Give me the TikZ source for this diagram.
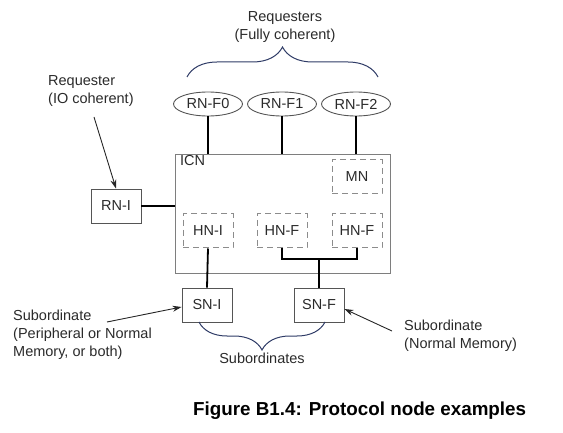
\documentclass[tikz,border=0pt]{standalone}
\usepackage{fontspec}
\setmainfont{Liberation Sans}
\usetikzlibrary{shapes.geometric,arrows.meta,decorations.pathreplacing}
\definecolor{bracec}{HTML}{2E3B66}
\definecolor{dashc}{HTML}{8C8C8C}
\definecolor{boxc}{HTML}{555555}
\definecolor{txt}{HTML}{2A2A2A}
\begin{document}
\begin{tikzpicture}[x=1pt,y=-1pt,
  every node/.style={font=\fontsize{14.5}{17.8}\selectfont, text=txt},
  rnf/.style={ellipse, draw=boxc, line width=0.9pt, minimum width=69pt, minimum height=24pt, inner sep=0pt},
  solidbox/.style={draw=boxc, line width=0.9pt, minimum width=50pt, minimum height=34pt, inner sep=0pt},
  dashbox/.style={draw=dashc, line width=1pt, dash pattern=on 6pt off 4pt, minimum width=50pt, minimum height=34pt, inner sep=0pt},
  link/.style={line width=1.8pt, black},
  ann/.style={align=left, inner sep=0pt},
  pointer/.style={-{Stealth[length=9pt,width=6pt]}, line width=0.9pt, black!85},
  curly/.style={draw=bracec, line width=1pt, decorate}]
\useasboundingbox (0,0) rectangle (563,433);

% requesters
\node[rnf] (rnf0) at (208,104) {RN-F0};
\node[rnf] (rnf1) at (282,104) {RN-F1};
\node[rnf] (rnf2) at (356,104) {RN-F2};

% interconnect
\node[draw=dashc!90!black, line width=0.9pt, minimum width=215pt, minimum height=119pt, inner sep=0pt, anchor=north west] (icn) at (175,154) {};
\node[anchor=north west, inner sep=0pt] (icnlabel) at (180,155) {ICN};
\node[dashbox] (mn) at (357,177) {MN};
\node[dashbox] (hni) at (208,231) {HN-I};
\node[dashbox] (hnf1) at (282,231) {HN-F};
\node[dashbox] (hnf2) at (357,231) {HN-F};

\node[solidbox] (rni) at (116,206) {RN-I};
\node[solidbox] (sni) at (207,305) {SN-I};
\node[solidbox] (snf) at (319,305) {SN-F};

% links
\draw[link] (rnf0.south) -- (rnf0.south |- icn.north);
\draw[link] (rnf1.south) -- (rnf1.south |- icn.north);
\draw[link] (rnf2.south) -- (rnf2.south |- icn.north);
\draw[link] (rni.east) -- (rni.east -| icn.west);
\draw[link] (hni.south) -- (sni.north);
\coordinate (join) at (319,259);
\draw[link] (hnf1.south) |- (join) -| (hnf2.south);
\draw[link] (join) -- (snf.north);

% braces
\draw[curly, decoration={brace, amplitude=30pt}] (187,77) -- (378,77);
\draw[curly, decoration={brace, amplitude=28pt}] (325,322) -- (199,322);

% annotations
\node[align=center, inner sep=0pt] (reqs) at (285,27) {Requesters\\(Fully coherent)};
\node[ann, anchor=west] (reqio) at (48,91) {Requester\\(IO coherent)};
\node[ann, anchor=west] (subl) at (13,335) {Subordinate\\(Peripheral or Normal\\Memory, or both)};
\node[ann, anchor=west] (subr) at (404,336) {Subordinate\\(Normal Memory)};
\node[inner sep=0pt] (subs) at (262,358) {Subordinates};

\coordinate (p1) at (94,117);
\coordinate (p2) at (107,322);
\coordinate (p3) at (392,331);
\draw[pointer] (p1) -- (rni.north);
\draw[pointer] (p2) -- ([yshift=-2pt]sni.west);
\draw[pointer] (p3) -- ([yshift=-4pt]snf.east);

% caption
\node[anchor=base west, inner sep=0pt, text=black, font=\fontsize{18.8}{22}\selectfont\bfseries] (cap) at (193,415) {Figure B1.4: Protocol node examples};
\end{tikzpicture}
\end{document}
